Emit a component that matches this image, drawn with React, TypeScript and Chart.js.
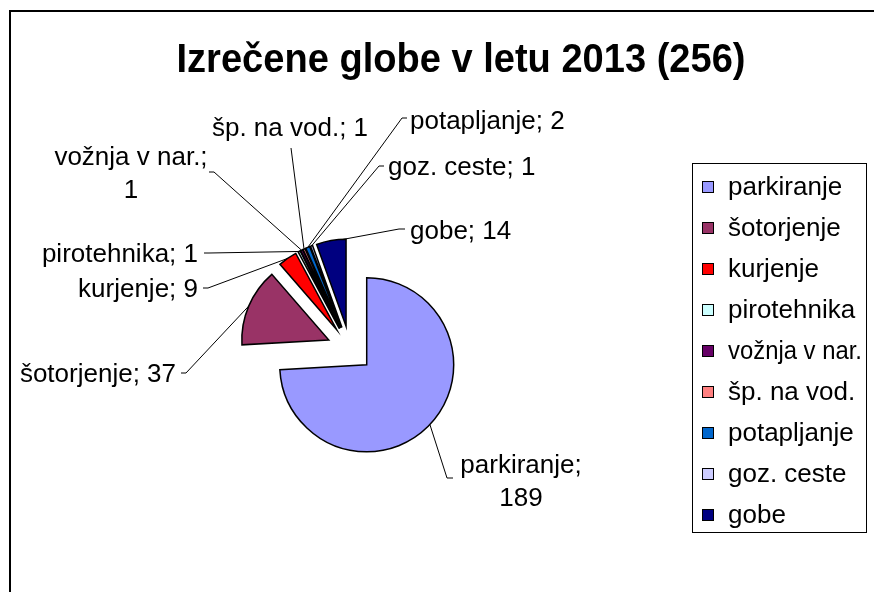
import React, { useEffect, useRef } from "react";
import { Chart, registerables } from "chart.js";

Chart.register(...registerables);

// ---------- data ----------
const TITLE = "Izrečene globe v letu 2013 (256)";
const categories = [
  "parkiranje",
  "šotorjenje",
  "kurjenje",
  "pirotehnika",
  "vožnja v nar.",
  "šp. na vod.",
  "potapljanje",
  "goz. ceste",
  "gobe",
];
const values = [189, 37, 9, 1, 1, 1, 2, 1, 14];
const colors = [
  "#9999FF",
  "#993366",
  "#FF0000",
  "#CCFFFF",
  "#660066",
  "#FF8080",
  "#0066CC",
  "#CCCCFF",
  "#000080",
];
// whether the data label wraps after the ";"
const labelWrap = [true, false, false, false, true, false, false, false, false];

// ---------- layout / style (not data) ----------
const FONT = '"Liberation Sans", Arial, sans-serif';
const LABEL_SIZE = 26;
const EXPLODE = 23;
const RADIUS = 87;
// label placement: x, first baseline y, alignment, leader elbow, leader end, attach fraction
const labelLayout = [
  { x: 521, y: 473, align: "center", elbow: [447, 478], end: [453, 478], frac: 0.5 },
  { x: 176, y: 382, align: "right", elbow: [186, 373], end: [181, 373], frac: 0.5 },
  { x: 198, y: 297, align: "right", elbow: [208, 288], end: [203, 288], frac: 0.5 },
  { x: 198, y: 262, align: "right", elbow: [209, 253], end: [204, 253], frac: 0.5 },
  { x: 131, y: 165, align: "center", elbow: [214, 172], end: [209, 172], frac: 0.5 },
  { x: 290, y: 136, align: "center", elbow: [291, 148], end: [291, 148], frac: 0.5 },
  { x: 410, y: 129, align: "left", elbow: [402, 118], end: [407, 118], frac: 0.5 },
  { x: 388, y: 175, align: "left", elbow: [379, 166], end: [384, 166], frac: 0.5 },
  { x: 410, y: 239, align: "left", elbow: [399, 229], end: [405, 229], frac: 0.9 },
];

const decorPlugin = {
  id: "decor",
  beforeDraw(chart: any) {
    const ctx = chart.ctx;
    ctx.save();
    ctx.fillStyle = "#fff";
    ctx.fillRect(0, 0, chart.width, chart.height);
    ctx.restore();
  },
  beforeDatasetDraw(chart: any, args: any) {
    const ctx = chart.ctx;
    const meta = chart.getDatasetMeta(args.index);
    ctx.save();
    meta.data.forEach((arc: any, i: number) => {
      const p = arc.getProps(["x", "y", "startAngle", "endAngle", "outerRadius"], true);
      const mid = (p.startAngle + p.endAngle) / 2;
      const cx = p.x + Math.cos(mid) * EXPLODE;
      const cy = p.y + Math.sin(mid) * EXPLODE;
      ctx.beginPath();
      ctx.moveTo(cx, cy);
      ctx.arc(cx, cy, p.outerRadius, p.startAngle, p.endAngle);
      ctx.closePath();
      ctx.fillStyle = colors[i];
      ctx.fill();
      ctx.lineWidth = 1.5;
      ctx.strokeStyle = "#000";
      ctx.stroke();
    });
    ctx.restore();
    return false;
  },
  afterDraw(chart: any) {
    const ctx = chart.ctx;
    const meta = chart.getDatasetMeta(0);
    ctx.save();
    // frame
    ctx.strokeStyle = "#000";
    ctx.lineWidth = 2;
    ctx.beginPath();
    ctx.moveTo(10, 700);
    ctx.lineTo(10, 11);
    ctx.lineTo(900, 11);
    ctx.stroke();

    // title
    ctx.fillStyle = "#000";
    ctx.textAlign = "center";
    ctx.textBaseline = "alphabetic";
    ctx.font = `bold 40px ${FONT}`;
    ctx.fillText(TITLE, 461, 72, 569);

    // data labels + leader lines
    ctx.font = `${LABEL_SIZE}px ${FONT}`;
    meta.data.forEach((arc: any, i: number) => {
      const p = arc.getProps(["x", "y", "startAngle", "endAngle", "outerRadius"], true);
      const L = labelLayout[i];
      const mid = (p.startAngle + p.endAngle) / 2;
      const a = p.startAngle + (p.endAngle - p.startAngle) * L.frac;
      const cx = p.x + Math.cos(mid) * EXPLODE;
      const cy = p.y + Math.sin(mid) * EXPLODE;
      const ax = cx + Math.cos(a) * p.outerRadius;
      const ay = cy + Math.sin(a) * p.outerRadius;
      ctx.strokeStyle = "#000";
      ctx.lineWidth = 1;
      ctx.beginPath();
      ctx.moveTo(ax, ay);
      ctx.lineTo(L.elbow[0], L.elbow[1]);
      ctx.lineTo(L.end[0], L.end[1]);
      ctx.stroke();

      const lines = labelWrap[i]
        ? [`${categories[i]};`, `${values[i]}`]
        : [`${categories[i]}; ${values[i]}`];
      ctx.fillStyle = "#000";
      ctx.textAlign = L.align;
      lines.forEach((t, k) => ctx.fillText(t, L.x, L.y + k * 33));
    });

    // legend
    const lx = 692, ly = 163, lw = 174, lh = 369;
    ctx.lineWidth = 1;
    ctx.strokeStyle = "#000";
    ctx.strokeRect(lx + 0.5, ly + 0.5, lw, lh);
    ctx.textAlign = "left";
    categories.forEach((c, i) => {
      const base = 195 + i * 41;
      ctx.fillStyle = colors[i];
      ctx.fillRect(702, base - 14, 11, 11);
      ctx.strokeStyle = "#000";
      ctx.lineWidth = 1;
      ctx.strokeRect(702.5, base - 13.5, 11, 11);
      ctx.fillStyle = "#000";
      ctx.fillText(c, 728, base, 134);
    });
    ctx.restore();
  },
};

export default function App() {
  const ref = useRef<HTMLCanvasElement | null>(null);
  useEffect(() => {
    if (!ref.current) return;
    const chart = new Chart(ref.current, {
      type: "pie",
      data: {
        labels: categories,
        datasets: [
          {
            data: values,
            backgroundColor: colors,
            borderColor: "#000",
            borderWidth: 1.5,
            radius: RADIUS,
          } as any,
        ],
      },
      options: {
        responsive: false,
        animation: false,
        events: [],
        radius: RADIUS,
        layout: { padding: { left: 200, right: 374, top: 250, bottom: 144 } },
        plugins: {
          legend: { display: false },
          title: { display: false },
          tooltip: { enabled: false },
        },
      } as any,
      plugins: [decorPlugin],
    });
    return () => chart.destroy();
  }, []);
  return (
    <div style={{ position: "fixed", left: 0, top: 0, width: 874, height: 592, background: "#fff" }}>
      <canvas ref={ref} width={874} height={592} style={{ display: "block" }} />
    </div>
  );
}
